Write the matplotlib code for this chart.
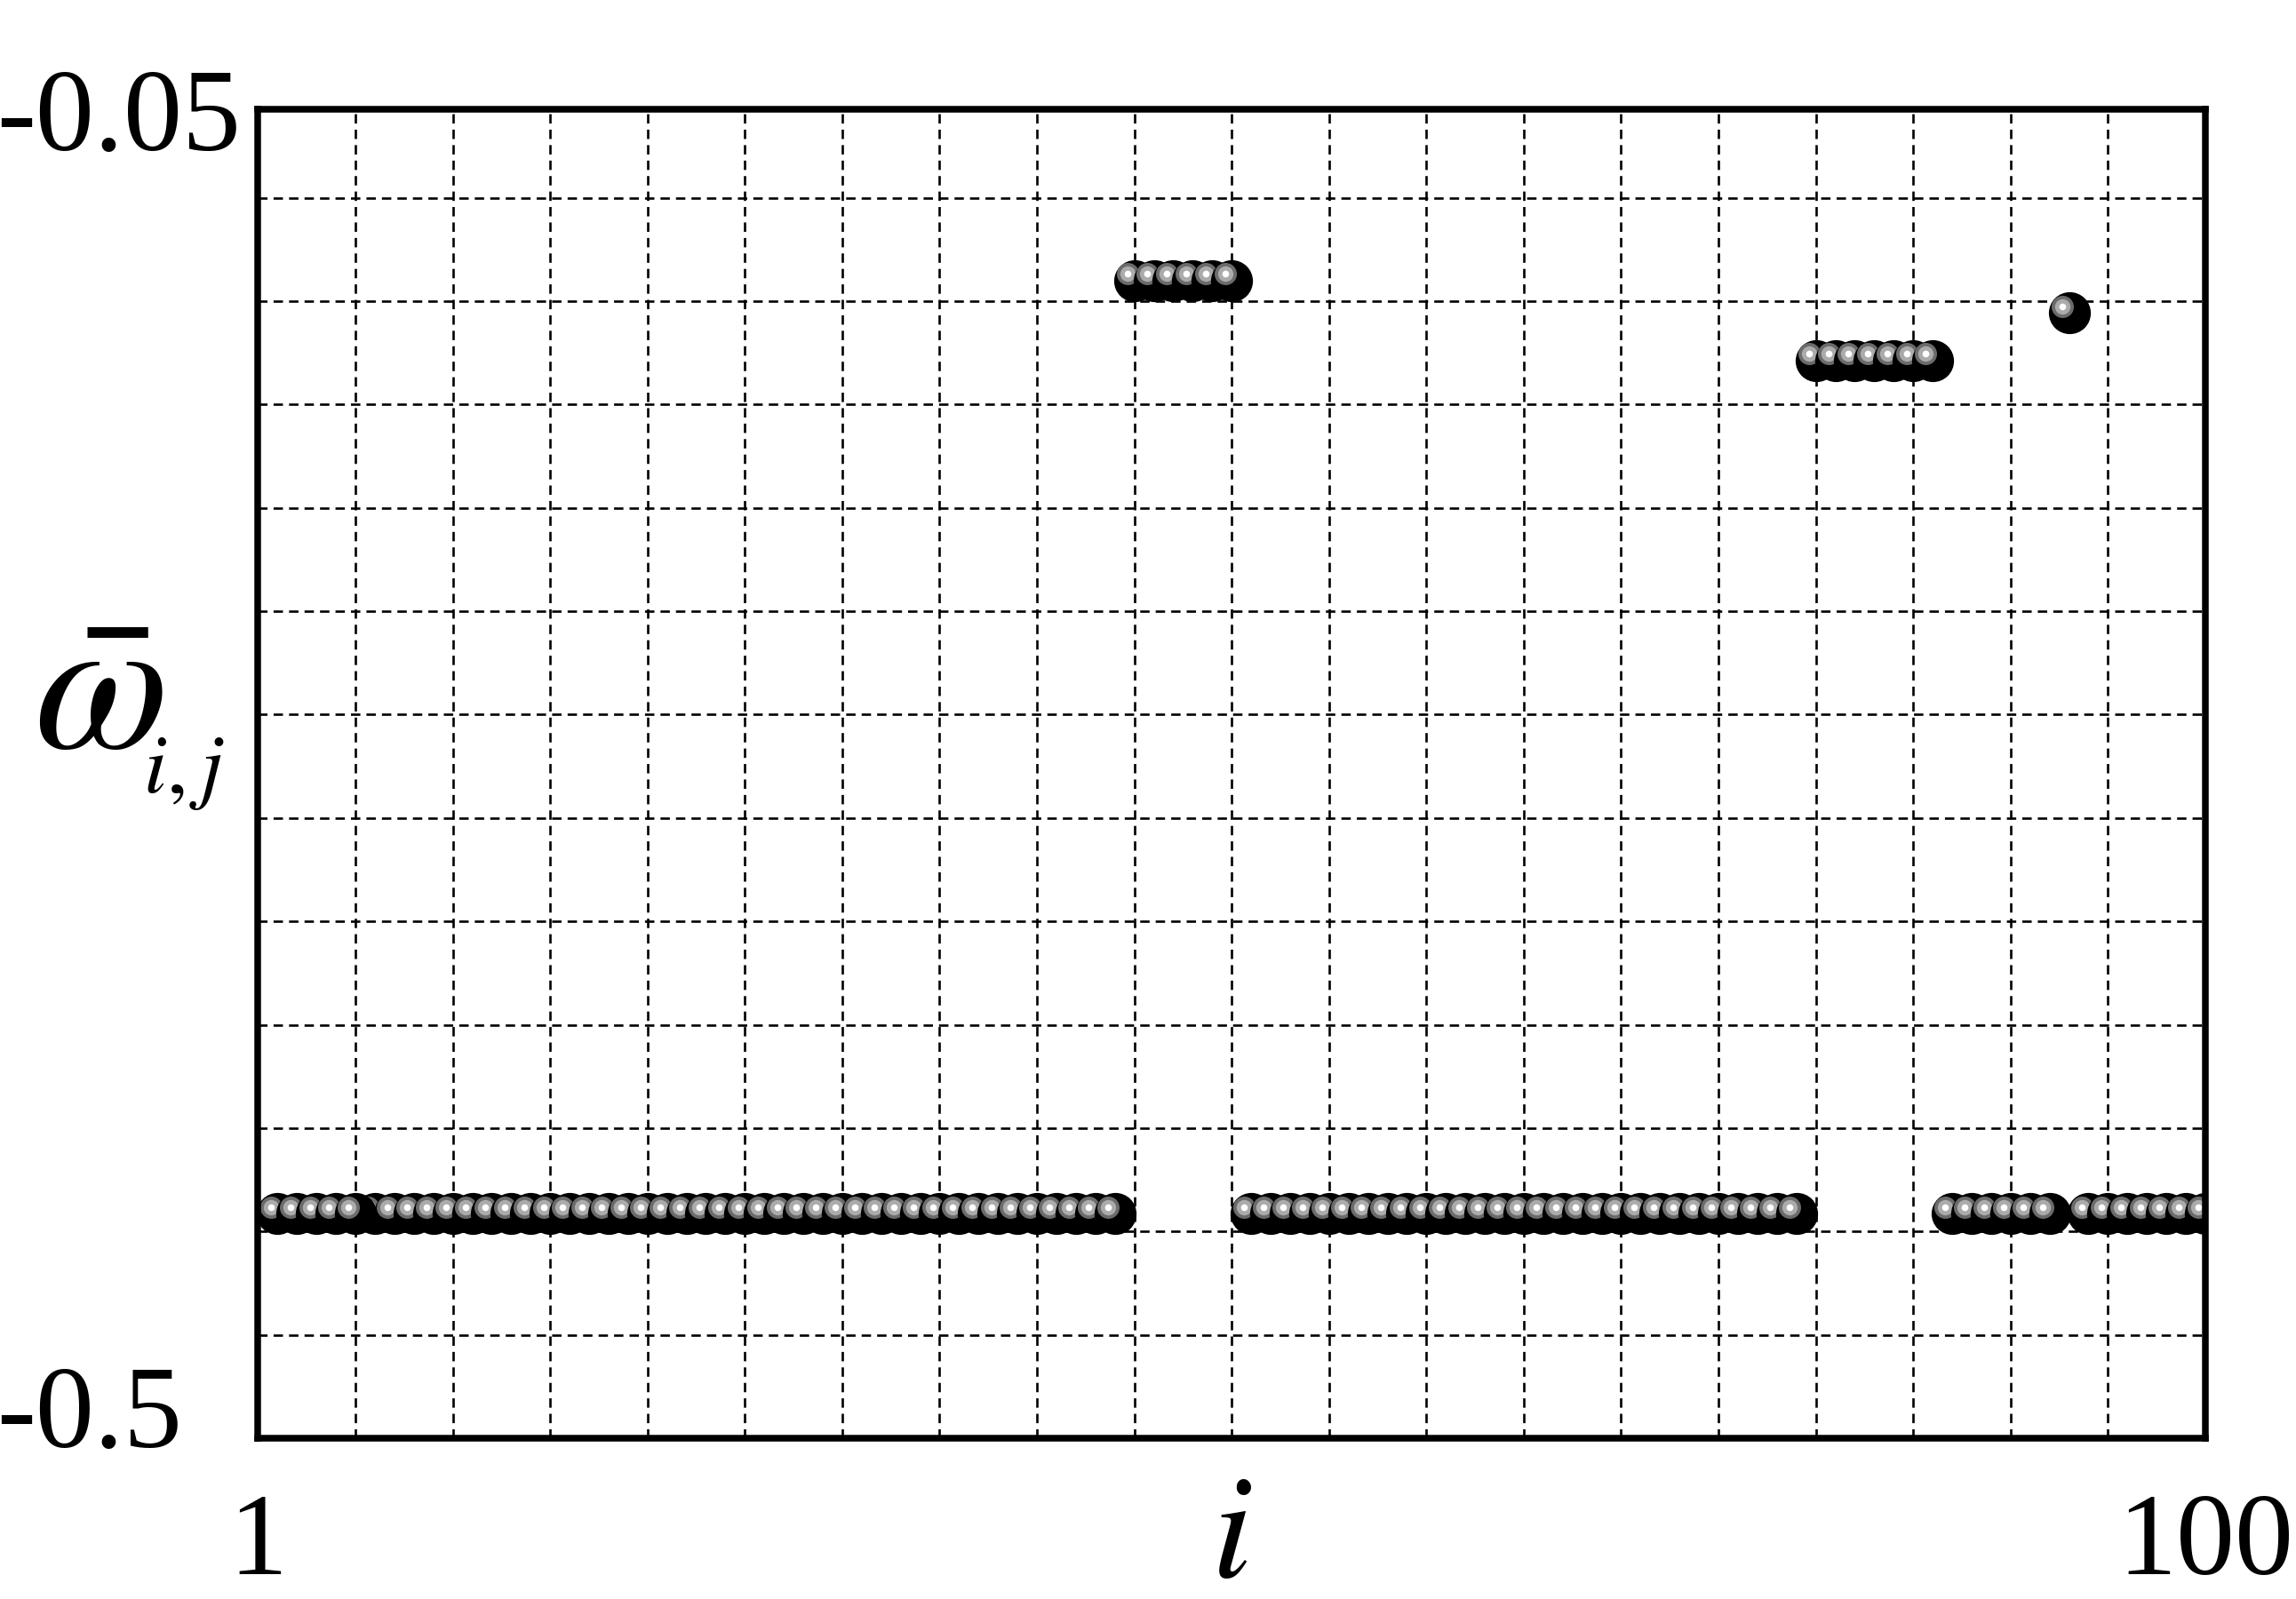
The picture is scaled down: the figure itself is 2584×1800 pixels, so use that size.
import numpy as np
import matplotlib
matplotlib.use('Agg')
import matplotlib.pyplot as plt
import matplotlib.transforms as mtransforms

plt.rcParams['font.family'] = ['Liberation Serif', 'DejaVu Serif']
plt.rcParams['mathtext.fontset'] = 'stix'

# node index i and mean frequency
i_node = list(range(1, 101))
omega = [-0.424, -0.424, -0.424, -0.424, -0.424, -0.424, -0.424, -0.424, -0.424, -0.424,
         -0.424, -0.424, -0.424, -0.424, -0.424, -0.424, -0.424, -0.424, -0.424, -0.424,
         -0.424, -0.424, -0.424, -0.424, -0.424, -0.424, -0.424, -0.424, -0.424, -0.424,
         -0.424, -0.424, -0.424, -0.424, -0.424, -0.424, -0.424, -0.424, -0.424, -0.424,
         -0.424, -0.424, -0.424, -0.424, -0.108, -0.108, -0.108, -0.108, -0.108, -0.108,
         -0.424, -0.424, -0.424, -0.424, -0.424, -0.424, -0.424, -0.424, -0.424, -0.424,
         -0.424, -0.424, -0.424, -0.424, -0.424, -0.424, -0.424, -0.424, -0.424, -0.424,
         -0.424, -0.424, -0.424, -0.424, -0.424, -0.424, -0.424, -0.424, -0.424, -0.135,
         -0.135, -0.135, -0.135, -0.135, -0.135, -0.135, -0.424, -0.424, -0.424, -0.424,
         -0.424, -0.424, -0.119, -0.424, -0.424, -0.424, -0.424, -0.424, -0.424, -0.424]

x_ticklabels = ['1', '100']
y_ticklabels = ['-0.5', '-0.05']

fig = plt.figure(figsize=(25.84, 18), dpi=100)
ax = fig.add_axes([0.1124, 0.1006, 0.8481, 0.8311])

# highlight of the "ball" markers, shifted up-left
hl = mtransforms.offset_copy(ax.transData, fig=fig, x=-5.5, y=5.5, units='points')

# nodes 1-5 were drawn after the rest
order = list(range(5, 100)) + list(range(0, 5))
for n, k in enumerate(order):
    z = 2 + n * 0.004
    x, y = i_node[k], omega[k]
    ax.plot(x, y, 'o', ms=34, color='black', mec='none', zorder=z)
    ax.plot(x, y, 'o', ms=18, color='#6b6b6b', mec='none', transform=hl, zorder=z + 0.001)
    ax.plot(x, y, 'o', ms=12.5, color='#ababab', mec='none', transform=hl, zorder=z + 0.002)
    ax.plot(x, y, 'o', ms=5.5, color='white', mec='none', transform=hl, zorder=z + 0.003)

ax.set_xlim(0, 100)
ax.set_ylim(-0.5, -0.05)
ax.set_xticks([0, 100], x_ticklabels)
ax.set_yticks([-0.5, -0.05], y_ticklabels)
ax.set_xticks(np.arange(0, 101, 5), minor=True)
ax.set_yticks(np.arange(-0.5, -0.06, 0.035), minor=True)
ax.set_axisbelow(True)
ax.grid(True, which='both', color='black', linestyle=(0, (4, 2.6)), linewidth=1.9)

ax.tick_params(which='both', length=0, labelsize=95)
ax.tick_params(axis='x', pad=44)
ax.tick_params(axis='y', pad=212)
for lab in ax.get_yticklabels():
    lab.set_horizontalalignment('left')
bot = ax.get_yticklabels()[0]
bot.set_transform(bot.get_transform() + mtransforms.ScaledTranslation(0, 0.36, fig.dpi_scale_trans))

for s in ax.spines.values():
    s.set_linewidth(5.4)
    s.set_zorder(10)

ax.set_xlabel(r'$i$', fontsize=120, va='baseline')
ax.xaxis.set_label_coords(0.5, -0.104)
# omega bar with a smaller i,j subscript next to it
ax.set_ylabel(r'$\bar{\omega}$', fontsize=158, rotation=0, va='baseline', ha='center')
ax.yaxis.set_label_coords(-0.082, 0.519)
ax.text(-0.059, 0.486, r'$i,j$', transform=ax.transAxes, fontsize=68,
        ha='left', va='baseline')

fig.savefig('out.png', dpi=100)
